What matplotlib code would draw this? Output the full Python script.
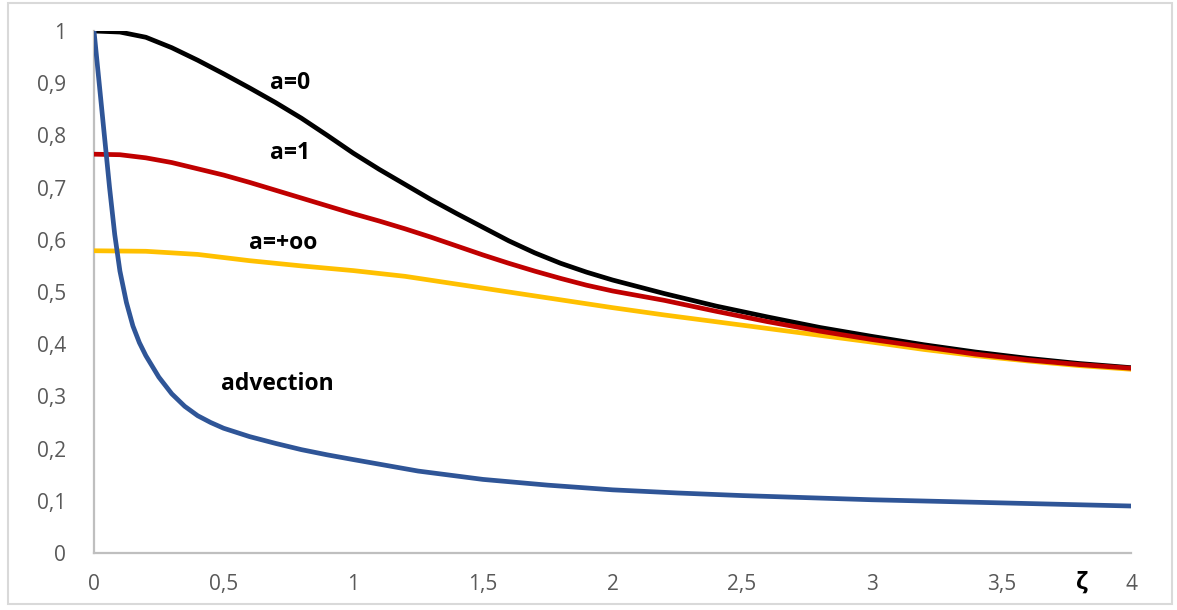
import numpy as np
import matplotlib.pyplot as plt
from matplotlib.patches import Rectangle

# curves
x_a0 = [0, 0.1, 0.2, 0.3, 0.4, 0.5, 0.6, 0.7, 0.8, 0.9, 1.0, 1.1, 1.2, 1.3, 1.4, 1.5,
        1.6, 1.7, 1.8, 1.9, 2.0, 2.2, 2.4, 2.6, 2.8, 3.0, 3.2, 3.4, 3.6, 3.8, 4.0]
y_a0 = [1.000, 0.998, 0.988, 0.968, 0.944, 0.918, 0.891, 0.863, 0.833, 0.800, 0.766,
        0.735, 0.706, 0.677, 0.650, 0.624, 0.598, 0.575, 0.555, 0.538, 0.523, 0.497,
        0.473, 0.452, 0.432, 0.415, 0.399, 0.385, 0.373, 0.363, 0.355]

x_a1 = [0, 0.1, 0.2, 0.3, 0.4, 0.5, 0.6, 0.7, 0.8, 0.9, 1.0, 1.1, 1.2, 1.3, 1.4, 1.5,
        1.6, 1.7, 1.8, 1.9, 2.0, 2.2, 2.4, 2.6, 2.8, 3.0, 3.2, 3.4, 3.6, 3.8, 4.0]
y_a1 = [0.764, 0.763, 0.757, 0.748, 0.736, 0.724, 0.710, 0.695, 0.680, 0.665, 0.650,
        0.636, 0.621, 0.605, 0.588, 0.571, 0.555, 0.540, 0.526, 0.513, 0.502, 0.484,
        0.463, 0.443, 0.425, 0.409, 0.395, 0.381, 0.370, 0.361, 0.354]

x_ainf = [0, 0.2, 0.4, 0.6, 0.8, 1.0, 1.2, 1.4, 1.6, 1.8, 2.0, 2.2, 2.4, 2.6, 2.8,
          3.0, 3.2, 3.4, 3.6, 3.8, 4.0]
y_ainf = [0.579, 0.578, 0.572, 0.560, 0.550, 0.541, 0.530, 0.515, 0.500, 0.485, 0.470,
          0.456, 0.443, 0.430, 0.417, 0.404, 0.390, 0.378, 0.368, 0.359, 0.352]

x_adv = [0, 0.02, 0.04, 0.06, 0.08, 0.10, 0.125, 0.15, 0.175, 0.2, 0.25, 0.3, 0.35, 0.4,
         0.45, 0.5, 0.6, 0.7, 0.8, 0.9, 1.0, 1.25, 1.5, 1.75, 2.0, 2.25, 2.5, 3.0, 3.5, 4.0]
y_adv = [1.000, 0.900, 0.800, 0.700, 0.610, 0.540, 0.480, 0.435, 0.403, 0.378, 0.337,
         0.305, 0.281, 0.263, 0.250, 0.239, 0.223, 0.210, 0.198, 0.188, 0.179, 0.157,
         0.141, 0.130, 0.121, 0.115, 0.110, 0.102, 0.096, 0.090]

labels = ["a=0", "a=1", "a=+oo", "advection"]
label_x = [0.756, 0.756, 0.729, 0.706]
label_y = [0.900, 0.766, 0.594, 0.324]

xticks = [0, 0.5, 1, 1.5, 2, 2.5, 3, 3.5, 4]
yticks = [0, 0.1, 0.2, 0.3, 0.4, 0.5, 0.6, 0.7, 0.8, 0.9, 1]

plt.rcParams['font.family'] = ['Open Sans', 'DejaVu Sans']

fig = plt.figure(figsize=(11.77, 6.10), dpi=100)
ax = fig.add_axes([94/1177, 1-553/610, (1131-94)/1177, (553-31)/610])

lw = 3.4
ax.plot(x_ainf, y_ainf, color='#ffc000', lw=lw, solid_capstyle='round', zorder=3)
ax.plot(x_a1, y_a1, color='#c00000', lw=lw, solid_capstyle='round', zorder=4)
ax.plot(x_a0, y_a0, color='black', lw=lw, solid_capstyle='round', zorder=2)
ax.plot(x_adv, y_adv, color='#2f5597', lw=lw, solid_capstyle='round', zorder=5)

for t, lx, ly in zip(labels, label_x, label_y):
    ax.text(lx, ly, t, ha='center', va='center', fontsize=16.5, fontweight='bold')

ax.set_xlim(0, 4)
ax.set_ylim(0, 1)
ax.set_xticks(xticks)
ax.set_yticks(yticks)
ax.set_xticklabels([('%g' % v).replace('.', ',') for v in xticks])
ax.set_yticklabels([('%g' % v).replace('.', ',') for v in yticks])
ax.tick_params(length=0, labelsize=15, labelcolor='#595959')
ax.tick_params(axis='x', pad=15)
ax.tick_params(axis='y', pad=20)

for s in ['top', 'right']:
    ax.spines[s].set_visible(False)
for s in ['left', 'bottom']:
    ax.spines[s].set_color('#bfbfbf')
    ax.spines[s].set_linewidth(1.6)

ax.text(3.81, -0.0575, 'ζ', ha='center', va='center', fontsize=17,
        fontweight='bold', clip_on=False)

fig.patches.append(Rectangle((8/1177, 6/610), 1164/1177, 601/610, transform=fig.transFigure,
                             fill=False, edgecolor='#d9d9d9', lw=1.5))

fig.savefig("out.png", dpi=100)
